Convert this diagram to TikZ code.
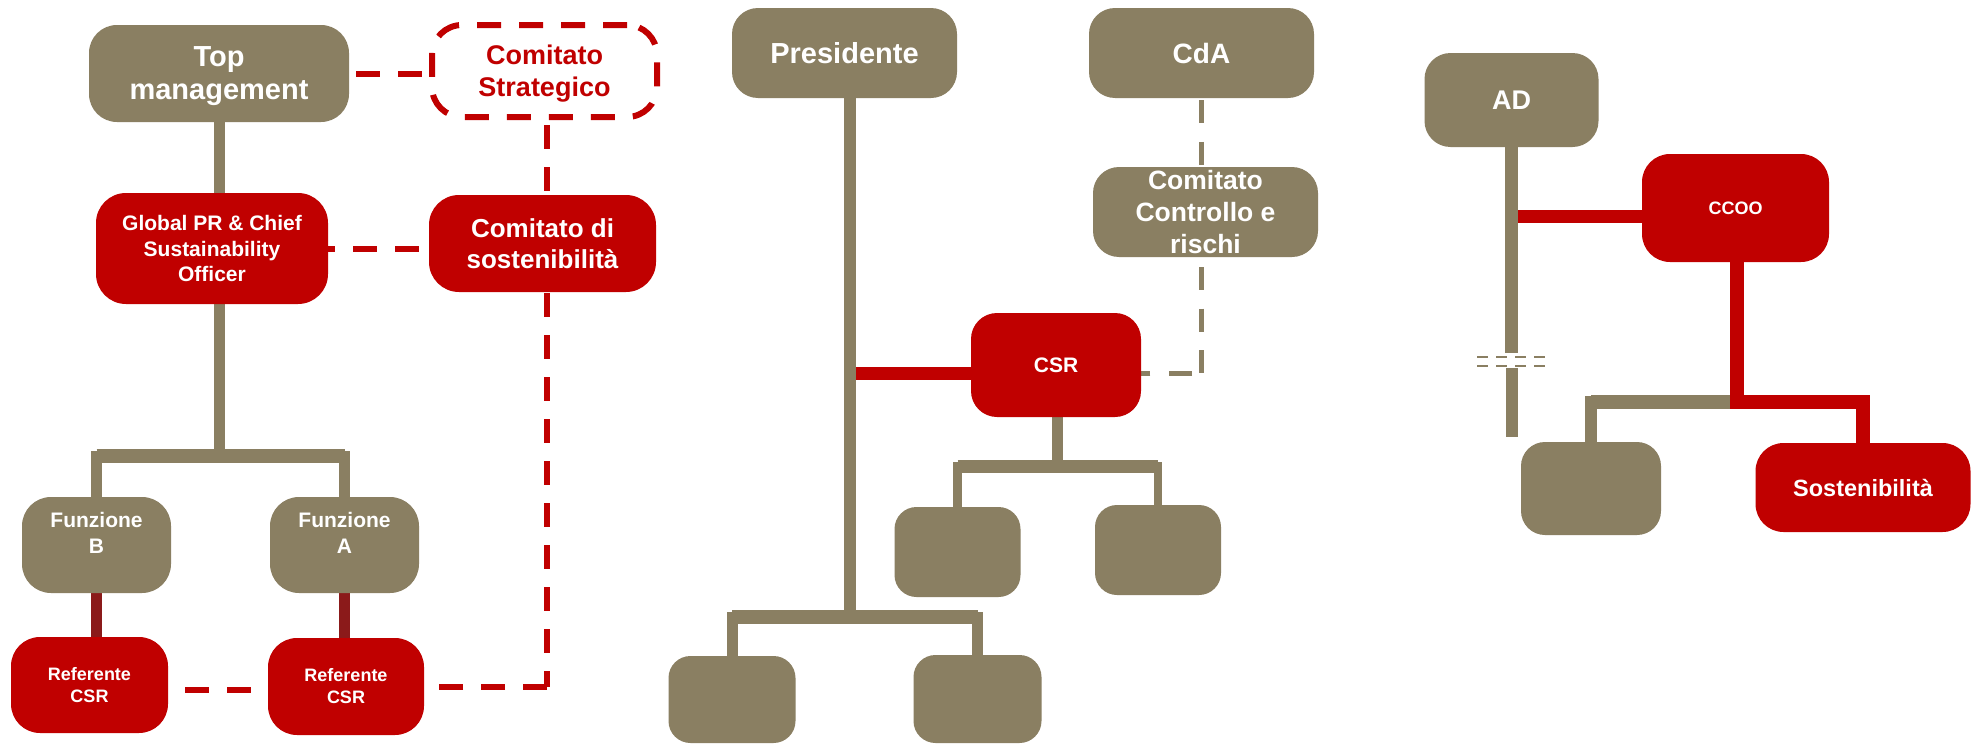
\documentclass[tikz,border=0pt]{standalone}
\usepackage{fontspec}
\setmainfont{Liberation Sans}
\definecolor{mgmtTan}{HTML}{8A7F62}
\definecolor{csrRed}{HTML}{C00000}
\definecolor{linkRed}{HTML}{8B1A1A}
\newcommand\boxfont[2]{\fontsize{#1pt}{#2pt}\selectfont\bfseries}
\pgfdeclarelayer{wires}
\pgfsetlayers{wires,main}
\tikzset{
  orgbox/.style={rectangle, inner sep=0pt, draw=none},
  tanbox/.style={orgbox, fill=mgmtTan},
  redbox/.style={orgbox, fill=csrRed},
  boxtxt/.style={text=white, align=center, inner sep=0pt},
  tanln/.style={draw=mgmtTan, line join=miter, line cap=butt},
  redln/.style={draw=csrRed, line join=miter, line cap=butt},
  reddash/.style={draw=csrRed, line width=6pt, dash pattern=on 24pt off 18pt},
  tandash/.style={draw=mgmtTan, line width=5.5pt, dash pattern=on 23pt off 18.7pt},
  breakln/.style={draw=mgmtTan, line width=2.5pt, dash pattern=on 10.5pt off 8.5pt},
}
\begin{document}
\begin{tikzpicture}[x=1pt, y=-1pt]
\useasboundingbox (0,0) rectangle (1973,744);

% ---------- left chart ----------
\node[tanbox, minimum width=260pt, minimum height=97pt, rounded corners=28pt,
  label={[boxtxt, yshift=-3pt, font=\boxfont{29}{33}]center:{Top\\management}}] (TopMgmt) at (219,73.5) {};
\node[orgbox, draw=csrRed, line width=6pt, dash pattern=on 24pt off 18pt,
  rounded corners=30pt, minimum width=225pt, minimum height=92pt,
  label={[boxtxt, yshift=-3pt, text=csrRed, font=\boxfont{27}{32}]center:{Comitato\\Strategico}}] (Strategico) at (544.5,71) {};
\node[redbox, minimum width=232pt, minimum height=111pt, rounded corners=30pt,
  label={[boxtxt, font=\boxfont{21}{25.5}]center:{Global PR \& Chief\\Sustainability\\Officer}}] (GPR) at (212,248.5) {};
\node[redbox, minimum width=227pt, minimum height=97pt, rounded corners=30pt,
  label={[boxtxt, font=\boxfont{26}{31}]center:{Comitato di\\sostenibilità}}] (Sost) at (542.5,243.5) {};
\node[tanbox, minimum width=149pt, minimum height=96pt, rounded corners=29pt,
  label={[boxtxt, yshift=12.5pt, font=\boxfont{21}{26}]center:{Funzione\\B}}] (FunzB) at (96.5,545) {};
\node[tanbox, minimum width=149pt, minimum height=96pt, rounded corners=29pt,
  label={[boxtxt, yshift=12.5pt, font=\boxfont{21}{26}]center:{Funzione\\A}}] (FunzA) at (344.5,545) {};
\node[redbox, minimum width=157pt, minimum height=96pt, rounded corners=29pt,
  label={[boxtxt, font=\boxfont{18}{22}]center:{Referente\\CSR}}] (RefB) at (89.5,685) {};
\node[redbox, minimum width=156pt, minimum height=97pt, rounded corners=29pt,
  label={[boxtxt, font=\boxfont{18}{22}]center:{Referente\\CSR}}] (RefA) at (346,686.5) {};

% ---------- middle chart ----------
\node[tanbox, minimum width=225pt, minimum height=90pt, rounded corners=26pt,
  label={[boxtxt, font=\boxfont{29}{34}]center:{Presidente}}] (Pres) at (844.5,53) {};
\node[tanbox, minimum width=225pt, minimum height=90pt, rounded corners=26pt,
  label={[boxtxt, font=\boxfont{28}{34}]center:{CdA}}] (CdA) at (1201.5,53) {};
\node[tanbox, minimum width=225pt, minimum height=90pt, rounded corners=26pt,
  label={[boxtxt, font=\boxfont{26.5}{32}]center:{Comitato\\Controllo e\\rischi}}] (Ctrl) at (1205.5,212) {};
\node[redbox, minimum width=170pt, minimum height=104pt, rounded corners=26pt,
  label={[boxtxt, font=\boxfont{21}{25}]center:{CSR}}] (CSR) at (1056,365) {};
\node[tanbox, minimum width=126pt, minimum height=90pt, rounded corners=22pt] (C1) at (957.5,552) {};
\node[tanbox, minimum width=126pt, minimum height=90pt, rounded corners=22pt] (C2) at (1158,550) {};
\node[tanbox, minimum width=127pt, minimum height=87pt, rounded corners=22pt] (BL1) at (732,699.5) {};
\node[tanbox, minimum width=128pt, minimum height=88pt, rounded corners=22pt] (BL2) at (977.5,699) {};

% ---------- right chart ----------
\node[tanbox, minimum width=174pt, minimum height=94pt, rounded corners=26pt,
  label={[boxtxt, font=\boxfont{27}{32}]center:{AD}}] (AD) at (1511.5,100) {};
\node[redbox, minimum width=187pt, minimum height=108pt, rounded corners=28pt,
  label={[boxtxt, font=\boxfont{18}{22}]center:{CCOO}}] (CCOO) at (1735.5,208) {};
\node[tanbox, minimum width=140pt, minimum height=93pt, rounded corners=24pt] (ADkid) at (1591,488.5) {};
\node[redbox, minimum width=215pt, minimum height=89pt, rounded corners=28pt,
  label={[boxtxt, font=\boxfont{23.5}{28}]center:{Sostenibilità}}] (Sosten) at (1863,487.5) {};

% junction points of the trees
\coordinate (b1) at (219.5,456);
\coordinate (b2) at (850,617);
\coordinate (b3) at (1057.5,466.5);
\coordinate (b4) at (1737,402);
\coordinate (presRed) at (850,373.5);
\coordinate (adRed) at (1511.5,216.5);
\coordinate (brkTop) at (1511.5,353);
\coordinate (brkBot) at (1511.5,368);
\coordinate (adEnd) at (1511.5,437);
\coordinate (sCorner) at (547,687);
\coordinate (cCorner) at (1201.5,373.5);

\begin{pgfonlayer}{wires}
  \fill[white] (0,0) rectangle (1973,744);

  % left tree
  \draw[tanln, line width=11pt] (TopMgmt.south -| b1) -- (b1);
  \draw[tanln, line width=11pt] (FunzB.north) |- (b1) -| (FunzA.north);
  \draw[tanln, line width=14pt] (FunzB.north |- b1) -- (FunzA.north |- b1);
  \draw[draw=linkRed, line width=11pt] (FunzB.south) -- (FunzB.south |- RefB.north);
  \draw[draw=linkRed, line width=11pt] (FunzA.south) -- (FunzA.south |- RefA.north);

  % left dashed links
  \draw[reddash, shorten <=7pt] (TopMgmt.east) -- (TopMgmt.east -| Strategico.west);
  \draw[reddash, dash phase=17pt] (GPR.east) -- (GPR.east -| Sost.west);
  \draw[reddash, shorten <=5pt] (Strategico.south -| sCorner) -- (sCorner);
  \draw[reddash, shorten >=14pt] (sCorner) -- (sCorner -| RefA.east);
  \draw[reddash, shorten <=17pt, shorten >=17pt] ([yshift=-5pt]RefB.east) -- ([yshift=-3.5pt]RefA.west);

  % middle tree
  \draw[redln, line width=13pt] (presRed) -- (presRed -| CSR.west);
  \draw[tanln, line width=11.5pt] (Pres.south -| b2) -- (b2);
  \draw[tanln, line width=11pt] (BL1.north) |- (b2) -| (BL2.north);
  \draw[tanln, line width=14pt] (BL1.north |- b2) -- (BL2.north |- b2);
  \draw[tanln, line width=11pt] (CSR.south -| b3) -- (b3);
  \draw[tanln, line width=8.5pt] (C1.north) |- (b3) -| (C2.north);
  \draw[tanln, line width=13pt] (C1.north |- b3) -- (C2.north |- b3);

  % middle dashed link
  \draw[tandash, shorten <=2pt] (CdA.south -| cCorner) -- (cCorner);
  \draw[tandash, dash phase=32.2pt] (cCorner) -- (cCorner -| CSR.east);

  % right tree
  \draw[redln, line width=13pt] (adRed) -- (adRed -| CCOO.west);
  \draw[tanln, line width=13pt] (AD.south -| brkTop) -- (brkTop);
  \draw[tanln, line width=12pt] (brkBot) -- (adEnd);
  \draw[breakln] (brkTop) ++(-34.5,4) -- ++(67.5,0);
  \draw[breakln] (brkTop) ++(-34.5,13) -- ++(67.5,0);
  \draw[tanln, line width=12pt] (ADkid.north) |- (b4);
  \draw[tanln, line width=14pt] (ADkid.north |- b4) -- (b4);
  \draw[redln, line width=13.5pt] (CCOO.south -| b4) -- (b4) -| (Sosten.north);
\end{pgfonlayer}
\end{tikzpicture}
\end{document}
